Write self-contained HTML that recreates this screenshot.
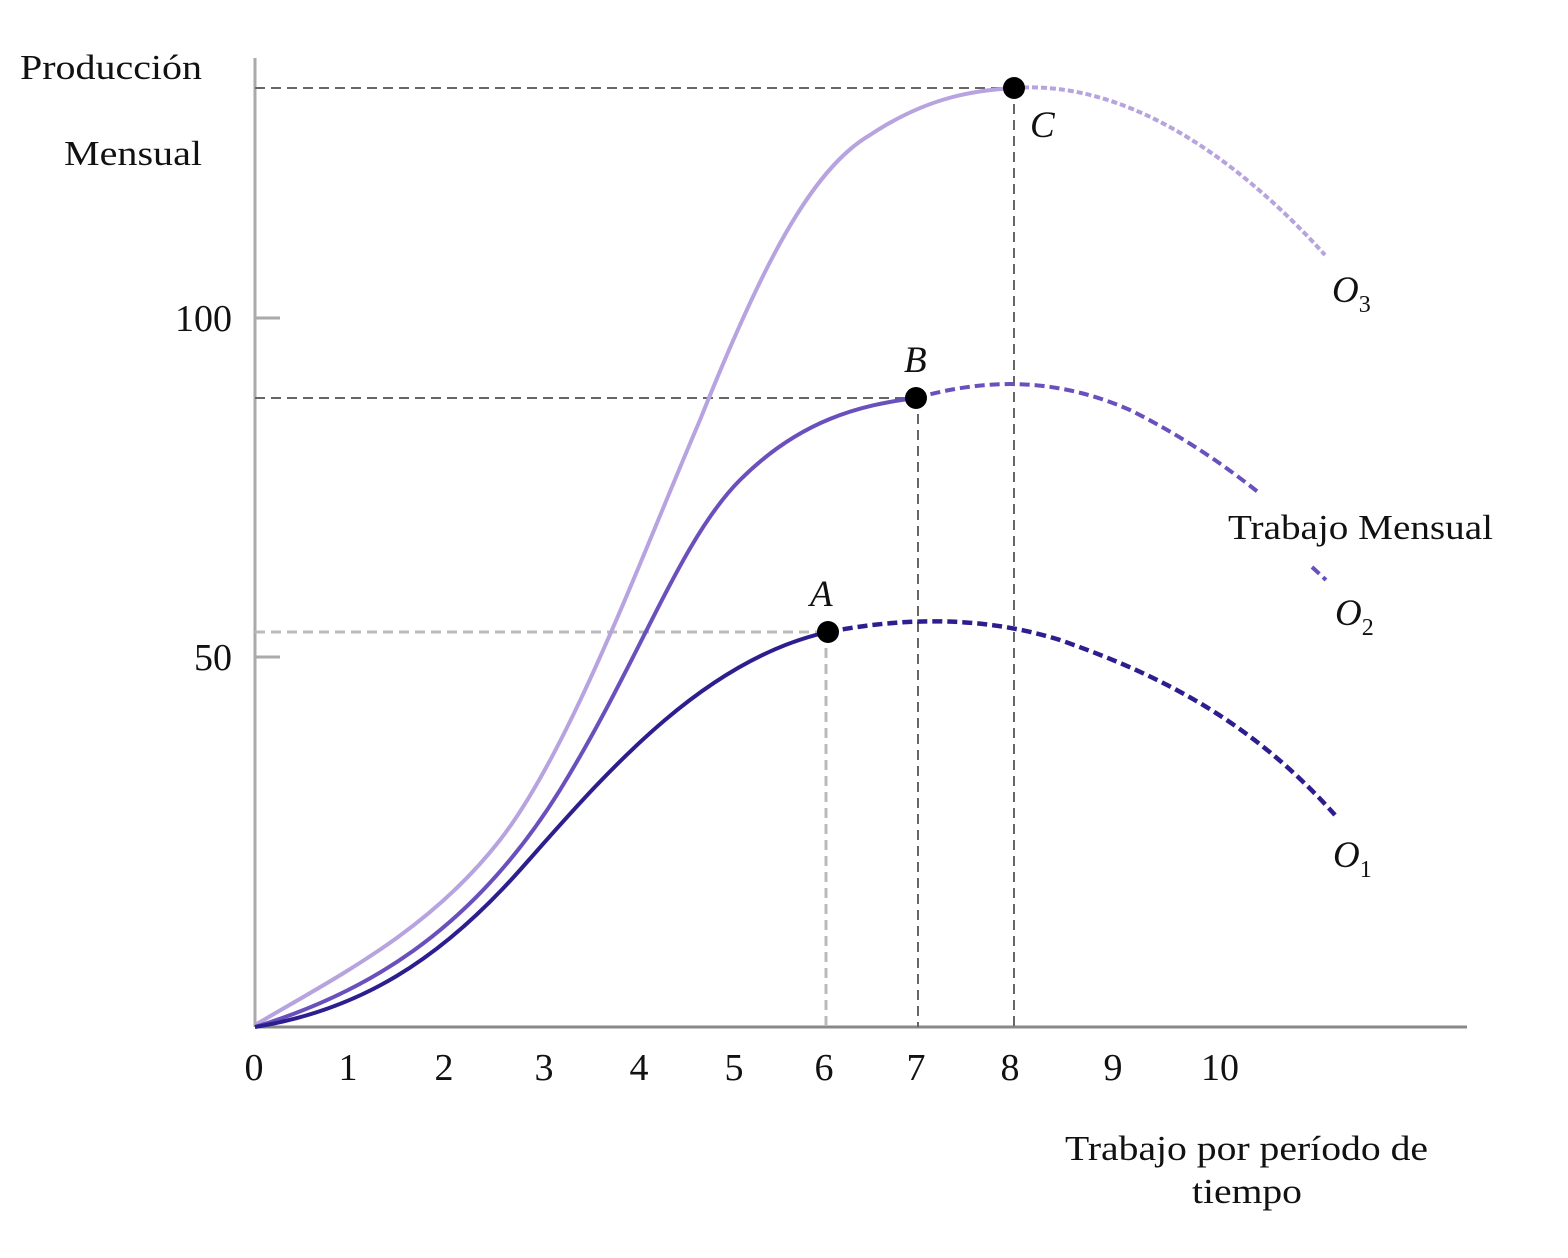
<!DOCTYPE html><html><head><meta charset="utf-8"><style>
body{margin:0;background:#fff;width:1568px;height:1253px;overflow:hidden}
svg text{font-family:"Liberation Serif",serif;fill:#111}
</style></head><body>
<svg width="1568" height="1253" viewBox="0 0 1568 1253">
<line x1="255" y1="58" x2="255" y2="1027" stroke="#aaa" stroke-width="3"/>
<line x1="255" y1="1027" x2="1467" y2="1027" stroke="#888" stroke-width="3"/>
<line x1="255" y1="318" x2="280" y2="318" stroke="#aaa" stroke-width="3"/>
<line x1="255" y1="657" x2="280" y2="657" stroke="#aaa" stroke-width="3"/>
<g stroke="#666" stroke-width="2" stroke-dasharray="10,6" fill="none">
<line x1="255" y1="88" x2="1014" y2="88"/>
<line x1="1014" y1="88" x2="1014" y2="1027"/>
<line x1="255" y1="398" x2="916" y2="398"/>
<line x1="918" y1="398" x2="918" y2="1027"/>
</g>
<g stroke="#bbb" stroke-width="3" stroke-dasharray="10,6" fill="none">
<line x1="255" y1="632" x2="828" y2="632"/>
<line x1="826" y1="632" x2="826" y2="1027"/>
</g>
<path d="M255,1025 C340,975 430,930 500,840 C570,750 640,560 700,420 C760,270 810,170 870,135 C930,95 980,90 1014,88" stroke="#b7a3df" stroke-width="4" fill="none"/>
<path d="M1014,88 C1120,80 1230,150 1325,255" stroke="#b7a3df" stroke-width="4" fill="none" stroke-dasharray="6,3"/>
<path d="M255,1027 C360,995 470,935 560,790 C640,660 680,540 740,480 C800,420 860,405 916,398" stroke="#6a50bd" stroke-width="4" fill="none"/>
<path d="M916,398 C980,380 1050,375 1130,410 C1190,440 1230,470 1258,492" stroke="#6a50bd" stroke-width="4" fill="none" stroke-dasharray="10,5"/>
<path d="M1312,567 L1326,580" stroke="#6a50bd" stroke-width="4" fill="none" stroke-dasharray="10,5"/>
<path d="M255,1027 C360,1010 440,960 520,870 C600,780 700,660 828,632" stroke="#2c1e8e" stroke-width="4" fill="none"/>
<path d="M828,632 C900,618 980,615 1060,640 C1160,675 1250,720 1335,815" stroke="#2c1e8e" stroke-width="4.5" fill="none" stroke-dasharray="10,5"/>
<circle cx="1014" cy="88" r="11" fill="#000"/>
<circle cx="916" cy="398" r="11" fill="#000"/>
<circle cx="828" cy="632" r="11" fill="#000"/>
<g font-size="37" font-style="italic">
<text x="1030" y="137">C</text>
<text x="904" y="372">B</text>
<text x="810" y="606">A</text>
<text x="1332" y="302">O<tspan font-size="24" dy="10" font-style="normal">3</tspan></text>
<text x="1335" y="625">O<tspan font-size="24" dy="10" font-style="normal">2</tspan></text>
<text x="1333" y="867">O<tspan font-size="24" dy="10" font-style="normal">1</tspan></text>
</g>
<g font-size="38" text-anchor="middle" fill="#222">
<text x="254" y="1080">0</text><text x="348" y="1080">1</text><text x="444" y="1080">2</text>
<text x="544" y="1080">3</text><text x="639" y="1080">4</text><text x="734" y="1080">5</text>
<text x="824" y="1080">6</text><text x="916" y="1080">7</text><text x="1010" y="1080">8</text>
<text x="1113" y="1080">9</text><text x="1220" y="1080">10</text>
</g>
<g font-size="38" text-anchor="end" fill="#222">
<text x="232" y="331">100</text><text x="232" y="670">50</text>
</g>
<g font-size="35">
<text x="20" y="79" textLength="182" lengthAdjust="spacingAndGlyphs">Producción</text>
<text x="64" y="165" textLength="138" lengthAdjust="spacingAndGlyphs">Mensual</text>
<text x="1228" y="539" textLength="265" lengthAdjust="spacingAndGlyphs">Trabajo Mensual</text>
<text x="1065" y="1160" textLength="363" lengthAdjust="spacingAndGlyphs">Trabajo por período de</text>
<text x="1192" y="1203" textLength="110" lengthAdjust="spacingAndGlyphs">tiempo</text>
</g>
</svg>
</body></html>
